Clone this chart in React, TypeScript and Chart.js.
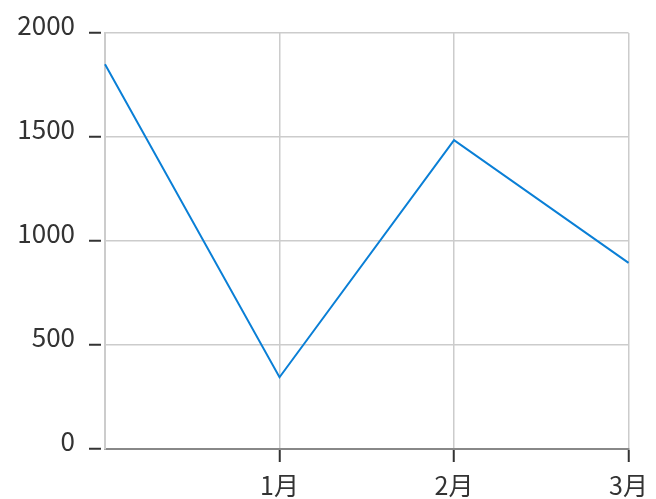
import { useEffect, useRef } from 'react';
import { Chart, registerables } from 'chart.js';

Chart.register(...registerables);

const categories = ['', '1月', '2月', '3月'];
const values = [1850, 345, 1485, 895];
const yTicks = [0, 500, 1000, 1500, 2000];

const FONT = '"Noto Sans CJK JP", "Noto Sans", sans-serif';

export default function App() {
  const ref = useRef<HTMLCanvasElement>(null);
  useEffect(() => {
    const chart = new Chart(ref.current!, {
      type: 'line',
      data: {
        labels: categories,
        datasets: [
          {
            data: values,
            borderColor: '#0a7fd6',
            borderWidth: 2,
            pointRadius: 0,
            tension: 0,
            fill: false,
          },
        ],
      },
      options: {
        animation: false,
        responsive: false,
        maintainAspectRatio: false,
        layout: { padding: { top: 33, right: 26, left: 0, bottom: 0 } },
        plugins: { legend: { display: false }, tooltip: { enabled: false } },
        scales: {
          x: {
            offset: false,
            grid: {
              color: '#cccccc',
              lineWidth: 1.5,
              tickLength: 13,
              tickColor: (ctx: any) => (ctx.index === 0 ? 'rgba(0,0,0,0)' : '#333333'),
              tickWidth: 2,
            },
            border: { color: '#888888', width: 2 },
            ticks: {
              font: { family: FONT, size: 25 },
              color: '#333333',
              padding: 8,
              maxRotation: 0,
              autoSkip: false,
            },
            afterFit: (s: any) => {
              s.height = 50;
            },
          },
          y: {
            min: 0,
            max: 2000,
            afterBuildTicks: (s: any) => {
              s.ticks = yTicks.map((v) => ({ value: v }));
            },
            grid: {
              color: '#cccccc',
              lineWidth: 1.5,
              tickLength: 16,
              tickColor: '#333333',
              tickWidth: 2,
              tickBorderDash: [12, 8],
            },
            border: { color: '#cccccc', width: 2 },
            ticks: {
              font: { family: FONT, size: 26 },
              color: '#333333',
              padding: 14,
              labelOffset: -8,
              callback: (v: any) => String(v),
            },
            afterFit: (s: any) => {
              s.width = 105;
            },
          },
        },
      },
    });
    return () => chart.destroy();
  }, []);
  return (
    <div style={{ position: 'fixed', left: 0, top: 0, width: 656, height: 499 }}>
      <canvas ref={ref} width={656} height={499} style={{ width: 656, height: 499, display: 'block' }} />
    </div>
  );
}
